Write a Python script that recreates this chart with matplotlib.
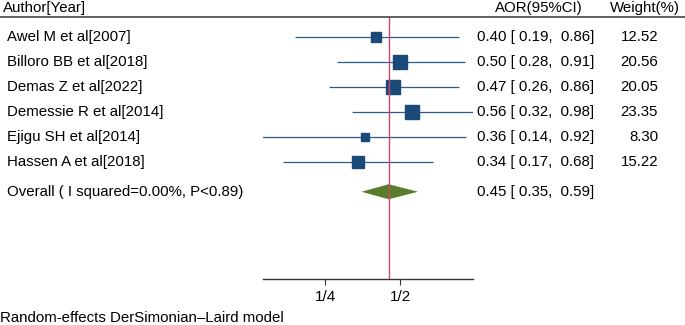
import numpy as np
import matplotlib
matplotlib.use("Agg")
import matplotlib.pyplot as plt
from matplotlib.lines import Line2D

plt.rcParams['font.family'] = ['Liberation Sans', 'DejaVu Sans']

authors = ["Awel M et al[2007]", "Billoro BB et al[2018]", "Demas Z et al[2022]",
           "Demessie R et al[2014]", "Ejigu SH et al[2014]", "Hassen A et al[2018]"]
aor = [0.40, 0.50, 0.47, 0.56, 0.36, 0.34]
lower = [0.19, 0.28, 0.26, 0.32, 0.14, 0.17]
upper = [0.86, 0.91, 0.86, 0.98, 0.92, 0.68]
weights = [12.52, 20.56, 20.05, 23.35, 8.30, 15.22]
overall_label = "Overall ( I squared=0.00%, P<0.89)"
overall = (0.45, 0.35, 0.59)
tick_vals = [0.25, 0.5]
tick_labels = ["1/4", "1/2"]

W, H = 685, 325
fig = plt.figure(figsize=(W / 100, H / 100), dpi=100)

def fx(x):
    return x / W

def fy(y):
    return 1 - y / H

# main axes: x 263..473 px, y 16.5..279 px
ax = fig.add_axes([fx(263), fy(279), fx(473) - fx(263), fy(16.5) - fy(279)])
ax.set_xscale('log')
ax.set_xlim(0.141, 0.98)
row_y = np.arange(len(authors), dtype=float)
y_over = 6.18
ax.set_ylim(9.67, -0.83)

line_col = "#2c5c8c"
sq_col = "#1c4a78"
for yi, est, lo, hi, w in zip(row_y, aor, lower, upper, weights):
    ax.plot([lo, hi], [yi, yi], color=line_col, lw=0.9, solid_capstyle='butt', zorder=2)
    ax.plot([est], [yi], marker='s', markersize=3.1 * np.sqrt(w) * 0.72,
            color=sq_col, markeredgecolor=sq_col, zorder=3)

est, lo, hi = overall
dh = 0.3
ax.fill([lo, est, hi, est], [y_over, y_over - dh, y_over, y_over + dh],
        color="#587d2c", zorder=3, lw=0)

ax.axvline(est, color="#d4456a", lw=1.0, zorder=4)

for s in ['top', 'left', 'right']:
    ax.spines[s].set_visible(False)
ax.spines['bottom'].set_color("#333333")
ax.spines['bottom'].set_linewidth(1.0)
ax.set_yticks([])
ax.set_xticks(tick_vals)
ax.set_xticklabels(tick_labels, fontsize=11)
ax.minorticks_off()
ax.tick_params(axis='x', length=4, width=0.8, color="#333333", pad=4)
ax.patch.set_visible(False)

# header line across figure
fig.add_artist(Line2D([0, 1], [fy(16.5), fy(16.5)], color="#555555", lw=1.3,
                      transform=fig.transFigure))

fs = 10.8
fig.text(fx(3), fy(8), "Author[Year]", fontsize=fs, va='center', ha='left')
fig.text(fx(583), fy(8), "AOR(95%CI)", fontsize=fs, va='center', ha='right')
fig.text(fx(680), fy(8), "Weight(%)", fontsize=fs, va='center', ha='right')

row_px = [37.3, 62.3, 87.3, 112.3, 137.1, 162.0]
for ypx, a, e, l, u, w in zip(row_px, authors, aor, lower, upper, weights):
    fig.text(fx(7), fy(ypx), a, fontsize=fs, va='center', ha='left')
    fig.text(fx(594), fy(ypx), f"{e:.2f} [ {l:.2f},  {u:.2f}]", fontsize=fs,
             va='center', ha='right')
    fig.text(fx(658), fy(ypx), f"{w:.2f}", fontsize=fs, va='center', ha='right')

fig.text(fx(7), fy(191.7), overall_label, fontsize=fs, va='center', ha='left')
fig.text(fx(594), fy(191.7), f"{overall[0]:.2f} [ {overall[1]:.2f},  {overall[2]:.2f}]",
         fontsize=fs, va='center', ha='right')

fig.text(fx(0), fy(318), "Random-effects DerSimonian\u2013Laird model", fontsize=fs,
         va='center', ha='left')

fig.savefig("out.png", dpi=100)
